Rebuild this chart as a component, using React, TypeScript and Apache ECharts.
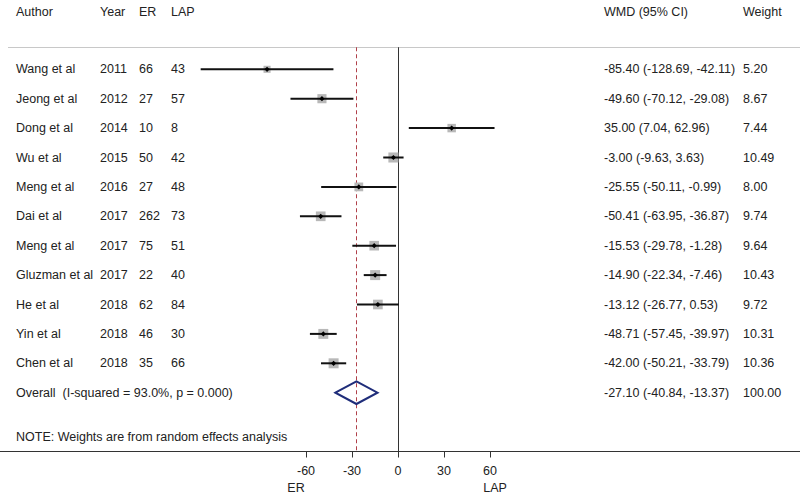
import React, { useEffect, useRef } from "react";
import * as echarts from "echarts";

const authors = ["Wang et al", "Jeong et al", "Dong et al", "Wu et al", "Meng et al", "Dai et al", "Meng et al", "Gluzman et al", "He et al", "Yin et al", "Chen et al"];
const years = [2011, 2012, 2014, 2015, 2016, 2017, 2017, 2017, 2018, 2018, 2018];
const erN = [66, 27, 10, 50, 27, 262, 75, 22, 62, 46, 35];
const lapN = [43, 57, 8, 42, 48, 73, 51, 40, 84, 30, 66];
const wmd = [-85.4, -49.6, 35.0, -3.0, -25.55, -50.41, -15.53, -14.9, -13.12, -48.71, -42.0];
const lower = [-128.69, -70.12, 7.04, -9.63, -50.11, -63.95, -29.78, -22.34, -26.77, -57.45, -50.21];
const upper = [-42.11, -29.08, 62.96, 3.63, -0.99, -36.87, -1.28, -7.46, 0.53, -39.97, -33.79];
const weights = [5.2, 8.67, 7.44, 10.49, 8.0, 9.74, 9.64, 10.43, 9.72, 10.31, 10.36];
const overallEst = -27.1;
const overallLo = -40.84;
const overallHi = -13.37;
const overallLabel = "Overall  (I-squared = 93.0%, p = 0.000)";
const noteLabel = "NOTE: Weights are from random effects analysis";
const headers = ["Author", "Year", "ER", "LAP", "WMD (95% CI)", "Weight"];
const xTicks = [-60, -30, 0, 30, 60];

const FONT = '12.5px "Liberation Sans", Arial, sans-serif';
const TXT = "#222222";
const COLX = { author: 16, year: 100, er: 139, lap: 171, wmd: 604, weight: 743 };
const fmt = (v: number) => v.toFixed(2);

export default function App() {
  const ref = useRef<HTMLDivElement>(null);
  useEffect(() => {
    document.body.style.margin = "0";
    const chart = echarts.init(ref.current!, null, { renderer: "svg" });
    const nRows = authors.length;
    const overallRow = nRows;
    const noteRow = nRows + 1.5;

    const studyData = wmd.map((v, i) => [v, lower[i], upper[i], weights[i], i]);
    const tableData = authors.map((_, i) => [i]);

    const text = (t: string, x: number, y: number, align = "left") => ({
      type: "text",
      style: { text: t, x, y, fill: TXT, font: FONT, align, verticalAlign: "middle" },
    });

    chart.setOption({
      animation: false,
      backgroundColor: "#ffffff",
      grid: { left: 0, right: 0, top: 47.25, bottom: 43.5, outerBoundsMode: "none" },
      xAxis: {
        type: "value",
        min: (-398 * 30) / 46,
        max: (402 * 30) / 46,
        splitLine: { show: false },
        axisLine: { show: true, onZero: false, lineStyle: { color: "#333", width: 1 } },
        axisTick: { show: true, customValues: xTicks, length: 6, lineStyle: { color: "#333" } },
        axisLabel: { customValues: xTicks, color: TXT, fontSize: 12.5, fontFamily: '"Liberation Sans", Arial', margin: 13 },
      },
      yAxis: { type: "value", inverse: true, min: -0.75, max: 13, show: false },
      graphic: [
        { type: "line", shape: { x1: 8, y1: 47.5, x2: 800, y2: 47.5 }, style: { stroke: "#c8c8c8", lineWidth: 1 } },
        ...headers.map((h, k) => {
          const xs = [COLX.author, COLX.year, COLX.er, COLX.lap, COLX.wmd, COLX.weight];
          return { type: "text", x: xs[k], y: 12, style: { text: h, fill: TXT, font: FONT, verticalAlign: "middle" } };
        }),
        { type: "text", x: 296, y: 488, style: { text: "ER", fill: TXT, font: FONT, align: "center", verticalAlign: "middle" } },
        { type: "text", x: 495, y: 488, style: { text: "LAP", fill: TXT, font: FONT, align: "center", verticalAlign: "middle" } },
      ],
      series: [
        {
          type: "custom",
          silent: true,
          data: [[0], [overallEst]],
          renderItem: (params: any, api: any) => {
            const v = api.value(0);
            const p1 = api.coord([v, -0.75]);
            const p2 = api.coord([v, 13]);
            const dashed = params.dataIndex === 1;
            return {
              type: "line",
              shape: { x1: Math.round(p1[0]) + 0.5, y1: p1[1], x2: Math.round(p2[0]) + 0.5, y2: p2[1] },
              style: dashed
                ? { stroke: "#b0404a", lineWidth: 1, lineDash: [4, 3] }
                : { stroke: "#333", lineWidth: 1 },
            };
          },
        },
        {
          type: "custom",
          silent: true,
          data: studyData,
          renderItem: (params: any, api: any) => {
            const est = api.value(0);
            const lo = api.value(1);
            const hi = api.value(2);
            const w = api.value(3);
            const row = api.value(4);
            const c = api.coord([est, row]);
            const a = api.coord([lo, row]);
            const b = api.coord([hi, row]);
            const s = 3.1 * Math.sqrt(w);
            const d = 2.6;
            return {
              type: "group",
              children: [
                { type: "rect", shape: { x: c[0] - s / 2, y: c[1] - s / 2, width: s, height: s }, style: { fill: "#b8b8b8" } },
                { type: "line", shape: { x1: a[0], y1: c[1], x2: b[0], y2: c[1] }, style: { stroke: "#111", lineWidth: 2 } },
                {
                  type: "polygon",
                  shape: { points: [[c[0] - d, c[1]], [c[0], c[1] - d], [c[0] + d, c[1]], [c[0], c[1] + d]] },
                  style: { fill: "#000" },
                },
              ],
            };
          },
        },
        {
          type: "custom",
          silent: true,
          data: [[overallEst, overallLo, overallHi, overallRow]],
          renderItem: (params: any, api: any) => {
            const row = api.value(3);
            const c = api.coord([api.value(0), row]);
            const a = api.coord([api.value(1), row]);
            const b = api.coord([api.value(2), row]);
            const h = 11.3;
            return {
              type: "polygon",
              shape: { points: [[a[0], c[1]], [c[0], c[1] - h], [b[0], c[1]], [c[0], c[1] + h]] },
              style: { fill: "none", stroke: "#1f2d7a", lineWidth: 2 },
            };
          },
        },
        {
          type: "custom",
          silent: true,
          data: tableData,
          renderItem: (params: any, api: any) => {
            const i = api.value(0);
            const y = api.coord([0, i])[1];
            return {
              type: "group",
              children: [
                text(authors[i], COLX.author, y),
                text(String(years[i]), COLX.year, y),
                text(String(erN[i]), COLX.er, y),
                text(String(lapN[i]), COLX.lap, y),
                text(`${fmt(wmd[i])} (${fmt(lower[i])}, ${fmt(upper[i])})`, COLX.wmd, y),
                text(fmt(weights[i]), COLX.weight, y),
              ],
            };
          },
        },
        {
          type: "custom",
          silent: true,
          data: [[overallRow, noteRow]],
          renderItem: (params: any, api: any) => {
            const y1 = api.coord([0, api.value(0)])[1];
            const y2 = api.coord([0, api.value(1)])[1];
            const total = weights.reduce((s, v) => s + v, 0);
            return {
              type: "group",
              children: [
                text(overallLabel, COLX.author, y1),
                text(`${fmt(overallEst)} (${fmt(overallLo)}, ${fmt(overallHi)})`, COLX.wmd, y1),
                text(Math.round(total).toFixed(2), COLX.weight, y1),
                text(noteLabel, COLX.author, y2),
              ],
            };
          },
        },
      ],
    });
    return () => chart.dispose();
  }, []);
  return <div ref={ref} style={{ width: 800, height: 495 }} />;
}
